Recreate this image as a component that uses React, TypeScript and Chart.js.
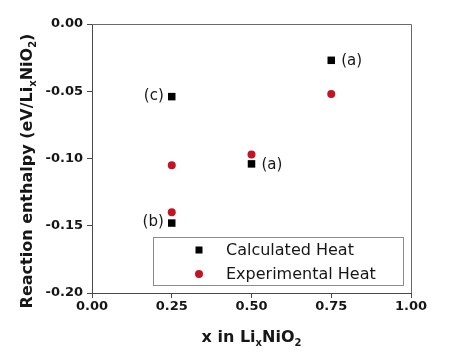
import React, { useEffect, useRef } from "react";
import { Chart, registerables } from "chart.js";

Chart.register(...registerables);

const xCalc = [0.25, 0.25, 0.5, 0.75];
const yCalc = [-0.054, -0.148, -0.104, -0.027];
const xExp = [0.25, 0.25, 0.5, 0.75];
const yExp = [-0.105, -0.14, -0.097, -0.052];
const calcNotes = ["(c)", "(b)", "(a)", "(a)"];
const noteSides = ["left", "left", "right", "right"];
const seriesNames = ["Calculated Heat", "Experimental Heat"];
const xTitle = [
  { t: "x in Li", sub: false },
  { t: "x", sub: true },
  { t: "NiO", sub: false },
  { t: "2", sub: true },
];
const yTitle = [
  { t: "Reaction enthalpy (eV/Li", sub: false },
  { t: "x", sub: true },
  { t: "NiO", sub: false },
  { t: "2", sub: true },
  { t: ")", sub: false },
];

const FAMILY = "'DejaVu Sans', sans-serif";
const TEXT = "#161616";
const RED = "#c41424";

function drawRich(ctx: CanvasRenderingContext2D, parts: { t: string; sub: boolean }[], cx: number, baseline: number, size: number, subSize: number) {
  const main = `bold ${size}px ${FAMILY}`;
  const small = `bold ${subSize}px ${FAMILY}`;
  let total = 0;
  for (const p of parts) {
    ctx.font = p.sub ? small : main;
    total += ctx.measureText(p.t).width;
  }
  let x = cx - total / 2;
  ctx.textAlign = "left";
  ctx.textBaseline = "alphabetic";
  for (const p of parts) {
    ctx.font = p.sub ? small : main;
    ctx.fillText(p.t, x, baseline + (p.sub ? 4 : 0));
    x += ctx.measureText(p.t).width;
  }
}

const decor = {
  id: "decor",
  afterDraw(chart: any) {
    const ctx: CanvasRenderingContext2D = chart.ctx;
    const a = chart.chartArea;
    ctx.save();
    // frame top/right
    ctx.strokeStyle = "#6a6a6a";
    ctx.lineWidth = 1;
    ctx.beginPath();
    ctx.moveTo(a.left, Math.round(a.top) + 0.5);
    ctx.lineTo(Math.round(a.right) + 0.5, Math.round(a.top) + 0.5);
    ctx.lineTo(Math.round(a.right) + 0.5, a.bottom);
    ctx.stroke();

    ctx.fillStyle = TEXT;
    // x title
    drawRich(ctx, xTitle, (a.left + a.right) / 2, 342, 16, 10);
    // y title
    ctx.save();
    ctx.translate(32, 171);
    ctx.rotate(-Math.PI / 2);
    drawRich(ctx, yTitle, 0, 0, 16, 10);
    ctx.restore();

    // annotations
    const meta = chart.getDatasetMeta(0);
    ctx.font = `15px ${FAMILY}`;
    ctx.textBaseline = "middle";
    calcNotes.forEach((n, i) => {
      const el = meta.data[i];
      if (!el) return;
      if (noteSides[i] === "left") {
        ctx.textAlign = "right";
        ctx.fillText(n, el.x - 8, el.y - 1);
      } else {
        ctx.textAlign = "left";
        ctx.fillText(n, el.x + 10, el.y + 1);
      }
    });

    // legend
    const lx = 153, ly = 237, lw = 250, lh = 48;
    ctx.fillStyle = "#ffffff";
    ctx.fillRect(lx, ly, lw, lh);
    ctx.strokeStyle = "#8c8c8c";
    ctx.strokeRect(lx + 0.5, ly + 0.5, lw, lh);
    ctx.font = `16px ${FAMILY}`;
    ctx.textAlign = "left";
    ctx.textBaseline = "middle";
    chart.data.datasets.forEach((ds: any, i: number) => {
      const cy = ly + 13 + i * 24;
      ctx.fillStyle = ds.backgroundColor;
      ctx.beginPath();
      if (ds.pointStyle === "rect") {
        ctx.rect(199 - 3.5, cy - 3.5, 7, 7);
      } else {
        ctx.arc(199, cy, 4, 0, Math.PI * 2);
      }
      ctx.fill();
      ctx.fillStyle = TEXT;
      ctx.fillText(ds.label, 226, cy + 1);
    });
    ctx.restore();
  },
};

export default function App() {
  const ref = useRef<HTMLCanvasElement>(null);
  useEffect(() => {
    if (!ref.current) return;
    const tickFont = { family: FAMILY, size: 13, weight: "bold" as const };
    const chart = new Chart(ref.current, {
      type: "scatter",
      data: {
        datasets: [
          {
            label: seriesNames[0],
            data: xCalc.map((x, i) => ({ x, y: yCalc[i] })),
            pointStyle: "rect",
            pointRadius: 5.3,
            pointHoverRadius: 5.3,
            backgroundColor: "#000000",
            borderWidth: 0,
          },
          {
            label: seriesNames[1],
            data: xExp.map((x, i) => ({ x, y: yExp[i] })),
            pointStyle: "circle",
            pointRadius: 4,
            pointHoverRadius: 4,
            backgroundColor: RED,
            borderWidth: 0,
          },
        ],
      },
      options: {
        responsive: false,
        animation: false,
        devicePixelRatio: 1,
        layout: { padding: { top: 24, right: 53, left: 0, bottom: 0 } },
        plugins: { legend: { display: false }, tooltip: { enabled: false } },
        events: [],
        scales: {
          x: {
            type: "linear",
            min: 0,
            max: 1,
            ticks: {
              stepSize: 0.25,
              callback: (v: any) => Number(v).toFixed(2),
              font: tickFont,
              color: TEXT,
              padding: 1,
              maxRotation: 0,
              autoSkip: false,
            },
            grid: { display: true, drawOnChartArea: false, drawTicks: true, tickLength: 5, color: "#4a4a4a" },
            border: { display: true, color: "#4a4a4a", width: 1 },
            afterFit: (s: any) => {
              s.height = 64;
            },
          },
          y: {
            type: "linear",
            min: -0.2,
            max: 0,
            ticks: {
              stepSize: 0.05,
              callback: (v: any) => Number(v).toFixed(2),
              font: tickFont,
              color: TEXT,
              padding: 4,
              autoSkip: false,
            },
            grid: { display: true, drawOnChartArea: false, drawTicks: true, tickLength: 5, color: "#4a4a4a" },
            border: { display: true, color: "#4a4a4a", width: 1 },
            afterFit: (s: any) => {
              s.width = 92;
            },
          },
        },
      },
      plugins: [decor],
    });
    return () => chart.destroy();
  }, []);
  return (
    <div style={{ position: "fixed", left: 0, top: 0, width: 464, height: 357, background: "#fff" }}>
      <canvas ref={ref} width={464} height={357} />
    </div>
  );
}
